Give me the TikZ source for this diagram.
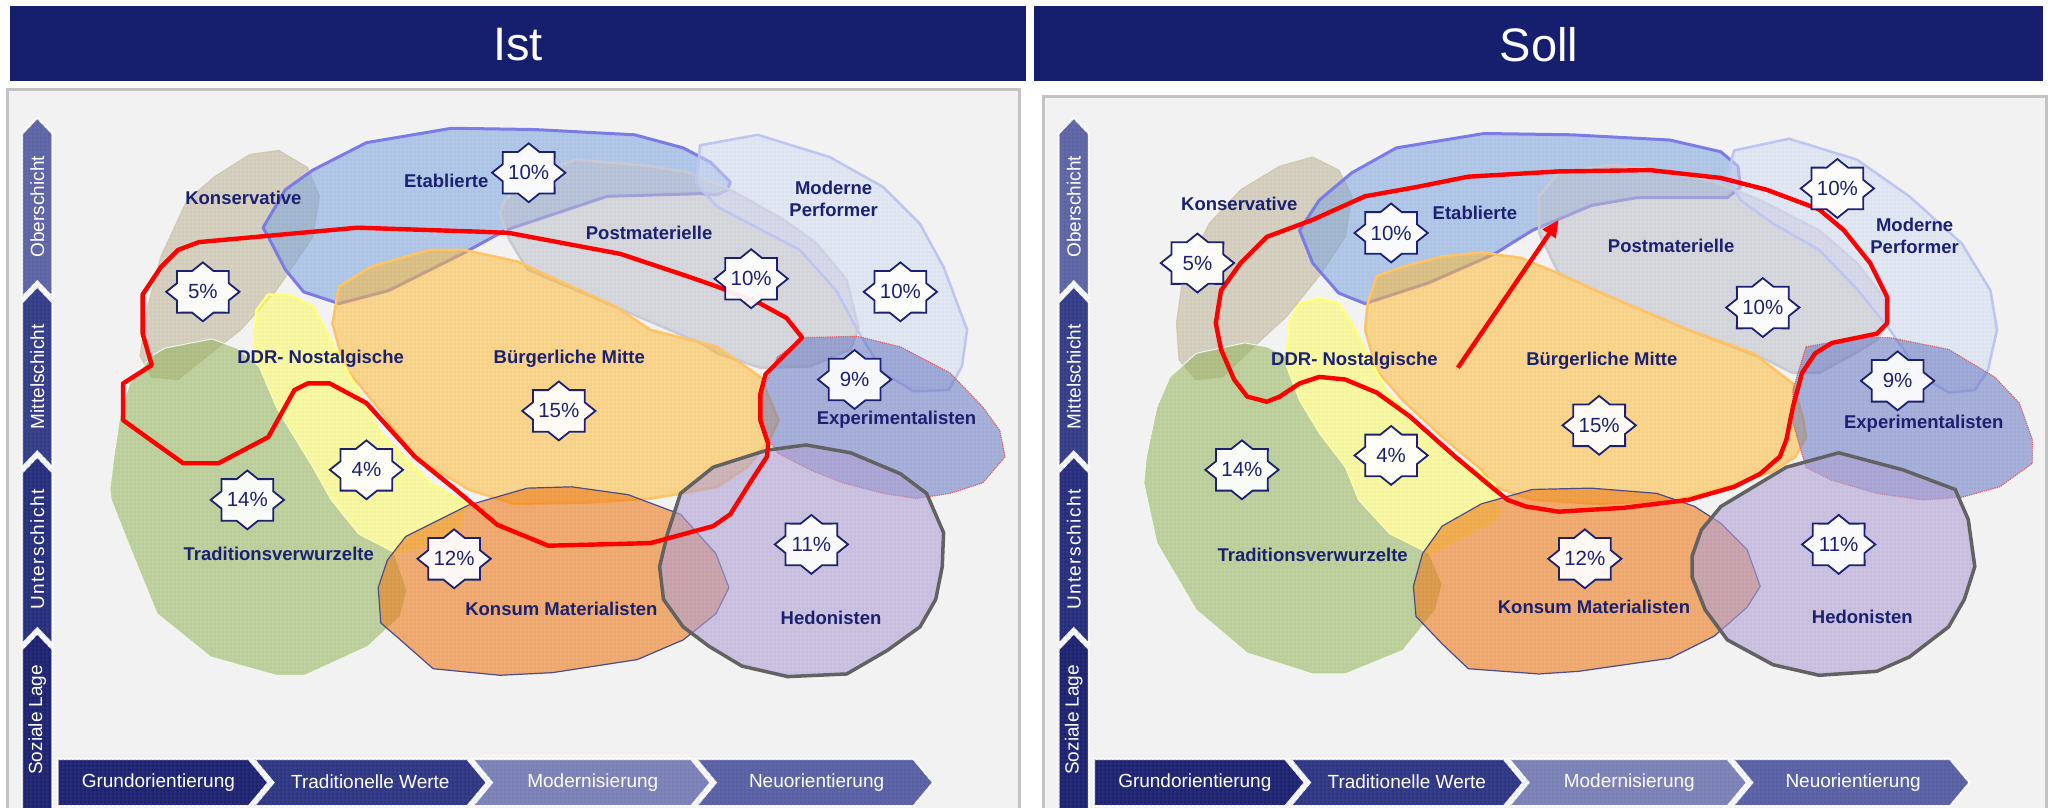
\documentclass[tikz,border=0pt]{standalone}
\usepackage{fontspec}
\setmainfont{Liberation Sans}
\usetikzlibrary{patterns.meta,arrows.meta}

\definecolor{hdrnavy}{HTML}{161E6E}
\definecolor{ink}{HTML}{1B2170}
\definecolor{panelbg}{HTML}{F2F2F2}
\definecolor{panelrim}{HTML}{C3C3C3}
\definecolor{konsF}{HTML}{B0A57E}\definecolor{konsR}{HTML}{D2CAB2}
\definecolor{etabF}{HTML}{7EA6E0}\definecolor{etabR}{HTML}{7C7CE6}
\definecolor{postF}{HTML}{C2C2CF}\definecolor{postR}{HTML}{CACAD4}
\definecolor{modF}{HTML}{D6DEF6}\definecolor{modR}{HTML}{BEC6F2}
\definecolor{buergF}{HTML}{FFBE3C}\definecolor{buergR}{HTML}{FFC466}
\definecolor{ddrF}{HTML}{FFFF66}\definecolor{ddrR}{HTML}{FFFF80}
\definecolor{tradF}{HTML}{96B65C}\definecolor{tradR}{HTML}{F4F8EC}
\definecolor{expF}{HTML}{6676C4}\definecolor{expR}{HTML}{E06060}
\definecolor{konsumF}{HTML}{F07E1E}\definecolor{konsumR}{HTML}{4C4C8C}
\definecolor{hedF}{HTML}{B3A3D6}\definecolor{hedR}{HTML}{626262}
\definecolor{axA}{HTML}{1C2270}
\definecolor{axB}{HTML}{2E3684}
\definecolor{axC}{HTML}{7A80B6}
\definecolor{axD}{HTML}{5860A4}
\definecolor{axV}{HTML}{5C64A4}
\definecolor{axM}{HTML}{343C88}
\definecolor{axU}{HTML}{262E7C}

\tikzset{
  region/.style n args={4}{fill=#1, fill opacity=#2, draw=#3, line width=#4, line join=round,
    postaction={pattern={Hatch[angle=0,distance=4pt,line width=.35pt]}, pattern color=#1!60!black, fill opacity=.16}},
  axseg/.style={fill=#1, draw=white, line width=2pt, line join=miter,
    postaction={pattern={Hatch[angle=0,distance=4pt,line width=.35pt]}, pattern color=#1!82!white}},
  axtext/.style={text=white, font=\fontsize{19}{21}\selectfont, inner sep=0},
  hdrtext/.style={text=white, font=\fontsize{47}{50}\selectfont, inner sep=0},
  lbl/.style={text=ink, font=\fontsize{18.5}{22}\selectfont\bfseries, align=center, inner sep=0},
  pcttext/.style={text=ink, font=\fontsize{20.5}{22}\selectfont, inner sep=0},
  starbox/.style={draw=ink, line width=1.8pt, fill=white, fill opacity=.92, line join=miter},
  redline/.style={draw=red, line width=4.4pt, line join=round, line cap=round},
  pics/pct/.style={code={
    \path[starbox] (0:28 and 22.5) -- (22.5:21.4 and 17.2) -- (45:28 and 22.5) -- (67.5:21.4 and 17.2)
      -- (90:28 and 22.5) -- (112.5:21.4 and 17.2) -- (135:28 and 22.5) -- (157.5:21.4 and 17.2)
      -- (180:28 and 22.5) -- (202.5:21.4 and 17.2) -- (225:28 and 22.5) -- (247.5:21.4 and 17.2)
      -- (270:28 and 22.5) -- (292.5:21.4 and 17.2) -- (315:28 and 22.5) -- (337.5:21.4 and 17.2) -- cycle;
    \node[pcttext] (-t) at (0,0) {#1};
  }},
}

% social-status bar and value-orientation arrows of one panel
\newcommand\axisset[2]{%
  \begin{scope}[shift={(#1,0)}]
    \path[axseg=axV] (17,102) -- (28.5,90) -- (40,102) -- (40,227) -- (28.5,215) -- (17,227) -- cycle;
    \path[axseg=axM] (17,231) -- (28.5,219) -- (40,231) -- (40,357) -- (28.5,345) -- (17,357) -- cycle;
    \path[axseg=axU] (17,361) -- (28.5,349) -- (40,361) -- (40,492) -- (28.5,480) -- (17,492) -- cycle;
    \path[axseg=axA] (17,496) -- (28.5,484) -- (40,496) -- (40,640) -- (17,640) -- cycle;
    \node[axtext, rotate=90] (#2ober) at (28.5,158) {Oberschicht};
    \node[axtext, rotate=90] (#2mittel) at (28.5,288) {Mittelschicht};
    \node[axtext, rotate=90] (#2unter) at (28.5,420) {\addfontfeatures{LetterSpace=7}Unterschicht};
    \node[axtext, rotate=90] (#2lage) at (28.5,550) {Soziale Lage};
    \path[axseg=axA] (44,580) -- (190,580) -- (205,598) -- (190,616) -- (44,616) -- cycle;
    \path[axseg=axB] (194,580) -- (357,580) -- (372,598) -- (357,616) -- (194,616) -- (209,598) -- cycle;
    \path[axseg=axC] (361,580) -- (528,580) -- (543,598) -- (528,616) -- (361,616) -- (376,598) -- cycle;
    \path[axseg=axD] (532,580) -- (698,580) -- (713,598) -- (698,616) -- (532,616) -- (547,598) -- cycle;
    \node[axtext] (#2grund) at (121,598) {Grundorientierung};
    \node[axtext] (#2trad) at (283,597) {Traditionelle Werte};
    \node[axtext] (#2modern) at (453,598) {Modernisierung};
    \node[axtext] (#2neu) at (624,598) {Neuorientierung};
  \end{scope}}

\newcommand\area[2]{\path[#1] plot[sharp cycle] coordinates {#2};}

\begin{document}
\begin{tikzpicture}[x=1.3087pt,y=-1.3087pt]
\clip (0,0) rectangle (1568,617);
\fill[white] (0,0) rectangle (1568,617);

% title bars
\fill[hdrnavy] (8,4.6) rectangle (784,62);
\fill[hdrnavy] (790,4.6) rectangle (1561,62);
\node[hdrtext] (ist) at (396,34) {Ist};
\node[hdrtext] (soll) at (1176,34) {Soll};

% panels
\draw[panelrim, line width=3pt, fill=panelbg] (6,68.5) rectangle (779,640);
\draw[panelrim, line width=3pt, fill=panelbg] (797,74) rectangle (1564,640);

\axisset{0}{L}
\axisset{792}{R}

% ---------- Ist ----------
\area{region={konsF}{.42}{konsR}{1.2pt}}{(213,115) (235,128) (244,150) (239,181) (211,222) (184,252) (157,273) (136,290) (116,288) (107,272) (113,234) (123,196) (143,153) (164,135) (191,118)}
\area{region={etabF}{.55}{etabR}{3pt}}{(201,174) (218,145) (239,130) (280,109) (345,98) (409,99) (485,103) (522,113) (543,124) (558,139) (556,145) (548,149) (535,148) (464,150) (386,176) (355,193) (297,222) (259,232) (232,223) (218,206) (205,181)}
\area{region={postF}{.55}{postR}{2.5pt}}{(386,153) (403,135) (440,122) (497,127) (527,132) (558,145) (599,168) (624,186) (647,214) (656,250) (650,267) (619,280) (581,281) (548,270) (535,262) (403,206) (389,183) (382,163)}
\area{region={modF}{.55}{modR}{2.5pt}}{(535,111) (579,103) (634,120) (675,143) (703,171) (721,204) (739,252) (735,280) (725,298) (698,299) (675,285) (655,252) (639,222) (611,191) (573,171) (548,158) (532,140)}
\area{region={buergF}{.55}{buergR}{2.5pt}}{(259,219) (283,204) (328,191) (355,191) (396,200) (426,214) (470,234) (497,252) (548,265) (581,288) (595,321) (588,336) (571,357) (548,372) (522,377) (497,381) (450,384) (392,385) (358,374) (317,349) (290,313) (263,280) (254,247)}
\area{region={ddrF}{.55}{ddrR}{2.5pt}}{(205,225) (222,226) (239,234) (246,247) (259,272) (290,330) (330,370) (356,385) (350,405) (320,418) (301,422) (274,408) (253,382) (239,357) (212,313) (198,280) (194,262) (196,237)}
\area{region={tradF}{.55}{tradR}{1pt}}{(162,259) (181,266) (198,280) (212,313) (239,357) (253,382) (274,408) (301,422) (311,451) (306,471) (281,494) (233,516) (211,516) (161,502) (120,469) (100,420) (85,382) (84,374) (87,349) (92,316) (99,293) (116,272) (126,266)}
\area{region={expF}{.52}{expR}{1.2pt}, dash pattern=on 1.2pt off 1pt}{(583,298) (594,273) (614,258) (655,257) (688,265) (726,285) (751,311) (764,329) (768,349) (751,369) (726,377) (700,381) (675,377) (644,369) (619,359) (594,346) (583,329)}
\area{region={konsumF}{.6}{konsumR}{1.2pt}}{(310,410) (358,386) (403,373) (437,372) (480,378) (520,393) (547,423) (557,449) (547,469) (522,489) (487,504) (422,514) (382,516) (331,511) (306,489) (291,476) (289,449) (296,428)}
\area{region={hedF}{.6}{hedR}{3.5pt}}{(520,377) (545,357) (586,344) (616,340) (650,346) (688,362) (708,377) (721,407) (720,433) (715,458) (703,479) (678,497) (647,515) (602,517) (567,509) (542,494) (522,479) (507,458) (504,433) (510,408)}

\draw[redline] plot[sharp cycle] coordinates {(152,185) (273,174) (365,177) (389,178) (474,194) (525,211) (548,219) (581,232) (601,243) (613,258) (599,272) (585,286) (581,301) (581,321) (587,339) (586,349) (573,369) (558,393) (545,402) (497,415) (419,417) (380,401) (348,374) (317,349) (280,308) (252,293) (235,293) (225,298) (205,334) (167,354) (140,354) (119,339) (94,321) (94,293) (116,279) (109,255) (109,225) (123,204) (136,191)};

\pic (pKonsL) at (155,223) {pct=5\%};
\pic (pEtabL) at (404,132) {pct=10\%};
\pic (pPostL) at (574,213) {pct=10\%};
\pic (pModL) at (688,223) {pct=10\%};
\pic (pBuergL) at (427,314) {pct=15\%};
\pic (pDdrL) at (280,359) {pct=4\%};
\pic (pExpL) at (653,290) {pct=9\%};
\pic (pTradL) at (189,382) {pct=14\%};
\pic (pKonsumL) at (347,427) {pct=12\%};
\pic (pHedL) at (620,416) {pct=11\%};

\node[lbl] (lKonsL) at (186,151) {Konservative};
\node[lbl] (lEtabL) at (341,138) {Etablierte};
\node[lbl] (lPostL) at (496,178) {Postmaterielle};
\node[lbl] (lModL) at (637,152) {Moderne\\Performer};
\node[lbl] (lDdrL) at (245,274) {DDR- Nostalgische};
\node[lbl] (lBuergL) at (435,274) {Bürgerliche Mitte};
\node[lbl] (lExpL) at (685,321) {Experimentalisten};
\node[lbl] (lTradL) at (213,423) {Traditionsverwurzelte};
\node[lbl] (lKonsumL) at (429,465) {Konsum Materialisten};
\node[lbl] (lHedL) at (635,472) {Hedonisten};

% ---------- Soll ----------
\area{region={konsF}{.42}{konsR}{1.2pt}}{(1003,120) (1023,130) (1033,150) (1028,181) (1008,211) (983,242) (958,265) (934,288) (914,290) (901,275) (899,247) (904,211) (924,171) (948,145) (978,127)}
\area{region={etabF}{.55}{etabR}{3pt}}{(993,176) (1008,153) (1033,132) (1067,113) (1134,102) (1201,103) (1276,107) (1315,116) (1328,127) (1330,143) (1320,151) (1251,151) (1216,157) (1171,176) (1142,194) (1092,216) (1043,232) (1023,224) (1003,201)}
\area{region={postF}{.55}{postR}{2.5pt}}{(1176,150) (1191,132) (1231,126) (1271,130) (1310,139) (1345,153) (1390,176) (1419,201) (1439,227) (1442,247) (1434,260) (1414,272) (1390,285) (1370,285) (1350,275) (1290,252) (1231,227) (1191,209) (1176,178)}
\area{region={modF}{.55}{modR}{2.5pt}}{(1325,115) (1367,106) (1419,122) (1459,150) (1499,186) (1521,222) (1526,252) (1519,283) (1509,298) (1489,300) (1469,288) (1444,252) (1419,221) (1390,191) (1355,171) (1330,153) (1320,135)}
\area{region={buergF}{.55}{buergR}{2.5pt}}{(1052,211) (1072,204) (1102,196) (1132,193) (1162,197) (1191,209) (1231,227) (1290,252) (1340,270) (1370,293) (1378,321) (1380,334) (1372,349) (1355,360) (1320,372) (1281,382) (1221,385) (1171,382) (1142,372) (1132,359) (1102,334) (1072,306) (1052,283) (1043,252) (1045,232)}
\area{region={ddrF}{.55}{ddrR}{2.5pt}}{(993,232) (1008,228) (1023,232) (1033,247) (1043,267) (1060,300) (1100,340) (1142,370) (1145,395) (1117,410) (1092,423) (1062,408) (1038,382) (1028,357) (1008,331) (993,306) (983,280) (985,247)}
\area{region={tradF}{.55}{tradR}{1pt}}{(951,262) (968,265) (983,272) (983,280) (993,306) (1008,331) (1028,357) (1038,382) (1062,408) (1092,423) (1102,446) (1097,466) (1072,497) (1028,515) (1003,515) (953,499) (914,466) (884,415) (874,369) (876,349) (884,311) (894,288) (914,270)}
\area{region={expF}{.52}{expR}{1.2pt}, dash pattern=on 1.2pt off 1pt}{(1380,265) (1419,258) (1444,258) (1489,267) (1524,288) (1543,308) (1553,336) (1553,354) (1528,372) (1499,380) (1469,382) (1434,377) (1400,367) (1380,357) (1370,323) (1370,298)}
\area{region={konsumF}{.6}{konsumR}{1.2pt}}{(1087,423) (1102,402) (1132,385) (1171,374) (1216,373) (1266,377) (1295,387) (1315,400) (1335,420) (1345,448) (1335,464) (1310,486) (1276,503) (1206,513) (1176,515) (1122,511) (1102,492) (1082,471) (1080,448)}
\area{region={hedF}{.6}{hedR}{3.5pt}}{(1315,387) (1340,372) (1365,357) (1405,346) (1454,359) (1494,374) (1504,397) (1509,433) (1501,458) (1489,479) (1459,502) (1434,513) (1390,516) (1355,508) (1320,489) (1303,466) (1293,441) (1293,425) (1300,405)}

\draw[redline] plot[sharp cycle] coordinates {(968,181) (1003,168) (1043,150) (1082,143) (1122,135) (1191,131) (1261,130) (1315,136) (1350,145) (1390,160) (1409,176) (1429,201) (1442,227) (1442,247) (1434,255) (1400,262) (1387,270) (1377,285) (1370,311) (1365,336) (1360,349) (1345,362) (1325,372) (1290,382) (1241,388) (1191,391) (1166,387) (1152,382) (1142,374) (1112,349) (1077,318) (1052,300) (1028,290) (1008,288) (993,293) (978,303) (968,307) (953,303) (943,290) (933,267) (929,247) (933,222) (948,201)};

\coordinate (shiftFrom) at (1114,281);
\coordinate (shiftTo) at (1191,168);
\draw[redline, line cap=butt, -{Triangle[length=17pt,width=15pt]}] (shiftFrom) -- (shiftTo);

\pic (pKonsR) at (915,201) {pct=5\%};
\pic (pEtabR) at (1063,178) {pct=10\%};
\pic (pModR) at (1404,144) {pct=10\%};
\pic (pPostR) at (1347,235) {pct=10\%};
\pic (pBuergR) at (1222,325) {pct=15\%};
\pic (pExpR) at (1450,291) {pct=9\%};
\pic (pDdrR) at (1063,348) {pct=4\%};
\pic (pTradR) at (949,359) {pct=14\%};
\pic (pKonsumR) at (1211,427) {pct=12\%};
\pic (pHedR) at (1405,416) {pct=11\%};

\node[lbl] (lKonsR) at (947,156) {Konservative};
\node[lbl] (lEtabR) at (1127,163) {Etablierte};
\node[lbl] (lModR) at (1463,180) {Moderne\\Performer};
\node[lbl] (lPostR) at (1277,188) {Postmaterielle};
\node[lbl] (lDdrR) at (1035,276) {DDR- Nostalgische};
\node[lbl] (lBuergR) at (1224,276) {Bürgerliche Mitte};
\node[lbl] (lExpR) at (1470,324) {Experimentalisten};
\node[lbl] (lTradR) at (1003,424) {Traditionsverwurzelte};
\node[lbl] (lKonsumR) at (1218,464) {Konsum Materialisten};
\node[lbl] (lHedR) at (1423,471) {Hedonisten};
\end{tikzpicture}
\end{document}
